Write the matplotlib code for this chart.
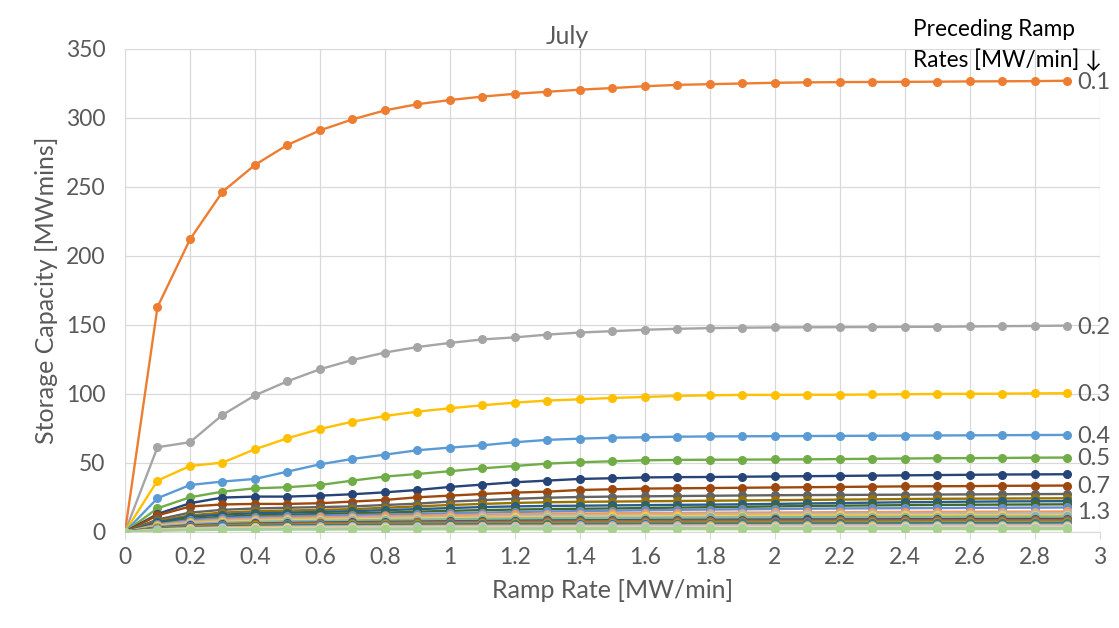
import matplotlib
matplotlib.use("Agg")
import matplotlib.pyplot as plt
from matplotlib.ticker import MultipleLocator, FormatStrFormatter

plt.rcParams['font.family'] = ['Lato', 'DejaVu Sans']

# ramp rate (x) and one curve per preceding ramp rate
ramp = [0.0, 0.1, 0.2, 0.3, 0.4, 0.5, 0.6, 0.7, 0.8, 0.9, 1.0, 1.1, 1.2, 1.3, 1.4,
        1.5, 1.6, 1.7, 1.8, 1.9, 2.0, 2.1, 2.2, 2.3, 2.4, 2.5, 2.6, 2.7, 2.8, 2.9]

p01 = [0, 163, 212, 246.5, 266, 280.5, 291, 299, 305.5, 310, 313, 315.5, 317.5, 319, 320.5,
       321.7, 323, 324, 324.5, 325, 325.5, 325.8, 326, 326.1, 326.2, 326.3, 326.5, 326.6, 326.7, 327]
p02 = [0, 61.4, 65, 84.8, 99, 109.2, 117.9, 124.6, 130, 134, 137, 139.5, 141, 143, 144.5,
       145.5, 146.5, 147.2, 147.7, 148, 148.2, 148.3, 148.4, 148.5, 148.6, 148.7, 148.9, 149.1, 149.3, 149.5]
p03 = [0, 37.2, 47.8, 50.2, 59.9, 67.9, 74.6, 79.9, 84, 87.2, 89.6, 91.8, 93.7, 95.2, 96.1,
       97.1, 97.8, 98.6, 99, 99.3, 99.3, 99.4, 99.4, 99.6, 99.8, 100, 100.1, 100.2, 100.4, 100.5]
p04 = [0, 24.4, 34, 36.5, 38.4, 43.7, 49, 52.9, 56, 59.2, 61.1, 62.8, 65, 66.7, 67.6,
       68.3, 68.6, 69, 69.2, 69.3, 69.4, 69.5, 69.6, 69.7, 69.8, 69.9, 70, 70.1, 70.2, 70.3]
p05 = [0, 17.1, 25.1, 29.2, 31.6, 32.4, 34, 37.2, 40.1, 42, 44, 46.1, 47.8, 49.5, 50.5,
       51.2, 51.9, 52.2, 52.3, 52.4, 52.5, 52.6, 52.8, 53, 53.2, 53.4, 53.5, 53.6, 53.8, 53.9]
p06 = [0, 13, 20.8, 24.9, 25.6, 25.6, 26.3, 27.3, 28.7, 30.4, 32.6, 34.3, 36, 37.2, 38.4,
       38.9, 39.5, 39.7, 39.8, 40, 40.2, 40.4, 40.6, 40.8, 41, 41.2, 41.4, 41.6, 41.7, 41.8]
p07 = [0, 12, 18.4, 19.9, 20.3, 20.3, 20.8, 22, 23.2, 25.1, 26.3, 27.5, 28.5, 29.2, 30.4,
       30.9, 31.4, 31.6, 31.8, 32, 32.2, 32.4, 32.6, 32.8, 33, 33.1, 33.2, 33.4, 33.5, 33.6]
p08 = [0, 9, 14, 16, 17, 17.5, 18, 18.5, 19.5, 20.5, 22, 23, 24, 24.8, 25.3,
       25.6, 25.8, 26, 26.2, 26.4, 26.6, 26.7, 26.8, 26.9, 27, 27.1, 27.2, 27.3, 27.4, 27.5]
p09 = [0, 8, 12, 14, 15, 15.5, 16, 16.5, 17.5, 18.5, 19.5, 20.3, 21, 21.5, 21.8,
       22, 22.2, 22.4, 22.6, 22.8, 23, 23.2, 23.4, 23.6, 23.8, 24, 24.1, 24.2, 24.3, 24.4]
p10 = [0, 7, 11, 12.5, 13.5, 14, 14.5, 15, 15.8, 16.5, 17.3, 18, 18.5, 18.8, 19,
       19.2, 19.4, 19.6, 19.8, 20, 20.3, 20.6, 20.9, 21.2, 21.5, 21.7, 21.9, 22.1, 22.2, 22.3]
p11 = [0, 6, 9.5, 11, 12, 12.5, 13, 13.5, 14, 14.7, 15.3, 15.8, 16.2, 16.5, 16.8,
       17, 17.3, 17.6, 17.9, 18.2, 18.5, 18.8, 19, 19.2, 19.4, 19.6, 19.7, 19.8, 19.9, 20]
p12 = [0, 5.5, 8.5, 10, 10.8, 11.3, 11.8, 12.2, 12.6, 13, 13.5, 14, 14.4, 14.8, 15.1,
       15.4, 15.7, 16, 16.2, 16.4, 16.6, 16.8, 17, 17.1, 17.2, 17.3, 17.4, 17.5, 17.6, 17.7]
p13 = [0, 5, 7.5, 8.8, 9.6, 10.1, 10.5, 10.9, 11.3, 11.7, 12.1, 12.5, 12.8, 13.1, 13.3,
       13.5, 13.7, 13.8, 13.9, 14, 14.1, 14.2, 14.3, 14.4, 14.5, 14.6, 14.6, 14.7, 14.7, 14.8]
p14 = [0, 4.5, 6.8, 8, 8.7, 9.2, 9.6, 10, 10.3, 10.6, 11, 11.3, 11.6, 11.9, 12.1,
       12.3, 12.5, 12.6, 12.7, 12.8, 12.9, 13, 13.1, 13.2, 13.2, 13.3, 13.3, 13.4, 13.4, 13.5]
p15 = [0, 4, 6.2, 7.3, 8, 8.4, 8.8, 9.1, 9.4, 9.7, 10, 10.3, 10.6, 10.8, 11,
       11.2, 11.3, 11.4, 11.5, 11.6, 11.7, 11.8, 11.9, 12, 12, 12.1, 12.1, 12.2, 12.2, 12.3]
p16 = [0, 3.8, 5.7, 6.7, 7.3, 7.7, 8, 8.3, 8.6, 8.9, 9.2, 9.5, 9.7, 9.9, 10.1,
       10.2, 10.3, 10.4, 10.5, 10.6, 10.7, 10.8, 10.9, 10.9, 11, 11, 11.1, 11.1, 11.2, 11.2]
p17 = [0, 3.5, 5.2, 6.1, 6.7, 7.1, 7.4, 7.7, 8, 8.2, 8.5, 8.7, 8.9, 9.1, 9.3,
       9.4, 9.5, 9.6, 9.7, 9.8, 9.9, 9.9, 10, 10, 10.1, 10.1, 10.2, 10.2, 10.3, 10.3]
p18 = [0, 3.2, 4.8, 5.6, 6.1, 6.5, 6.8, 7.1, 7.3, 7.5, 7.7, 7.9, 8.1, 8.3, 8.4,
       8.5, 8.6, 8.7, 8.8, 8.9, 9, 9, 9.1, 9.1, 9.2, 9.2, 9.3, 9.3, 9.4, 9.4]
p19 = [0, 3, 4.4, 5.2, 5.7, 6, 6.3, 6.5, 6.7, 6.9, 7.1, 7.3, 7.5, 7.6, 7.7,
       7.8, 7.9, 8, 8.1, 8.1, 8.2, 8.2, 8.3, 8.3, 8.4, 8.4, 8.5, 8.5, 8.5, 8.6]
p20 = [0, 2.7, 4, 4.7, 5.2, 5.5, 5.8, 6, 6.2, 6.4, 6.6, 6.8, 6.9, 7, 7.1,
       7.2, 7.3, 7.3, 7.4, 7.4, 7.5, 7.5, 7.6, 7.6, 7.7, 7.7, 7.7, 7.8, 7.8, 7.8]
p21 = [0, 2.5, 3.7, 4.4, 4.8, 5.1, 5.3, 5.5, 5.7, 5.9, 6, 6.1, 6.2, 6.3, 6.4,
       6.5, 6.6, 6.6, 6.7, 6.7, 6.8, 6.8, 6.9, 6.9, 7, 7, 7, 7.1, 7.1, 7.1]
p22 = [0, 2.3, 3.4, 4, 4.4, 4.7, 4.9, 5.1, 5.2, 5.3, 5.4, 5.5, 5.6, 5.7, 5.8,
       5.9, 5.9, 6, 6, 6.1, 6.1, 6.2, 6.2, 6.2, 6.3, 6.3, 6.3, 6.4, 6.4, 6.4]
p23 = [0, 2.1, 3.1, 3.7, 4, 4.3, 4.5, 4.6, 4.7, 4.8, 4.9, 5, 5.1, 5.2, 5.2,
       5.3, 5.3, 5.4, 5.4, 5.5, 5.5, 5.5, 5.6, 5.6, 5.6, 5.7, 5.7, 5.7, 5.8, 5.8]
p24 = [0, 1.9, 2.8, 3.3, 3.6, 3.9, 4, 4.1, 4.2, 4.3, 4.4, 4.5, 4.6, 4.6, 4.7,
       4.7, 4.8, 4.8, 4.9, 4.9, 4.9, 5, 5, 5, 5, 5.1, 5.1, 5.1, 5.1, 5.2]
p25 = [0, 1.7, 2.5, 3, 3.3, 3.5, 3.6, 3.7, 3.8, 3.9, 4, 4, 4.1, 4.1, 4.2,
       4.2, 4.3, 4.3, 4.3, 4.4, 4.4, 4.4, 4.5, 4.5, 4.5, 4.5, 4.6, 4.6, 4.6, 4.6]
p26 = [0, 1.5, 2.2, 2.6, 2.9, 3.1, 3.2, 3.3, 3.4, 3.4, 3.5, 3.5, 3.6, 3.6, 3.7,
       3.7, 3.7, 3.8, 3.8, 3.8, 3.9, 3.9, 3.9, 3.9, 4, 4, 4, 4, 4, 4]
p27 = [0, 1.3, 1.9, 2.3, 2.5, 2.7, 2.8, 2.9, 2.9, 3, 3, 3.1, 3.1, 3.1, 3.2,
       3.2, 3.2, 3.2, 3.3, 3.3, 3.3, 3.3, 3.3, 3.4, 3.4, 3.4, 3.4, 3.4, 3.4, 3.4]
p28 = [0, 1.1, 1.6, 1.9, 2.1, 2.2, 2.3, 2.4, 2.4, 2.5, 2.5, 2.5, 2.6, 2.6, 2.6,
       2.6, 2.7, 2.7, 2.7, 2.7, 2.7, 2.7, 2.8, 2.8, 2.8, 2.8, 2.8, 2.8, 2.8, 2.8]
p29 = [0, 0.9, 1.3, 1.5, 1.6, 1.7, 1.7, 1.8, 1.8, 1.8, 1.9, 1.9, 1.9, 1.9, 2,
       2, 2, 2, 2, 2, 2, 2, 2, 2, 2, 2, 2, 2, 2, 2]

series = [p01, p02, p03, p04, p05, p06, p07, p08, p09, p10, p11, p12, p13, p14, p15,
          p16, p17, p18, p19, p20, p21, p22, p23, p24, p25, p26, p27, p28, p29]
names = ['0.1', '0.2', '0.3', '0.4', '0.5', '0.6', '0.7', '0.8', '0.9', '1.0',
         '1.1', '1.2', '1.3', '1.4', '1.5', '1.6', '1.7', '1.8', '1.9', '2.0',
         '2.1', '2.2', '2.3', '2.4', '2.5', '2.6', '2.7', '2.8', '2.9']
labelled = ['0.1', '0.2', '0.3', '0.4', '0.5', '0.7', '1.3']

# excel default cycle, skipping the first (blue) one
colors = ['#ED7D31', '#A5A5A5', '#FFC000', '#5B9BD5', '#70AD47',
          '#264478', '#9E480E', '#636363', '#997300', '#255E91', '#43682B',
          '#698ED0', '#F1975A', '#B7B7B7', '#FFCD33', '#7CAFDD', '#8CC168',
          '#2F5597', '#C55A11', '#7B7B7B', '#BF9000', '#2E75B6', '#548235',
          '#8FAADC', '#F4B183', '#C9C9C9', '#FFD966', '#9DC3E6', '#A9D18E']

txt = '#595959'
fig = plt.figure(figsize=(11.19, 6.28), dpi=100)
ax = fig.add_axes([0.1117, 0.153, 0.8713, 0.769])

for vals, name, c in zip(series, names, colors):
    ax.plot(ramp, vals, color=c, lw=1.7, marker='o', ms=5.5, zorder=3)
    if name in labelled:
        ax.annotate(name, xy=(ramp[-1], vals[-1]), xytext=(7, -1), textcoords='offset points',
                    va='center', ha='left', fontsize=17, color=txt, annotation_clip=False)

ax.set_xlim(0, 3)
ax.set_ylim(0, 350)
ax.xaxis.set_major_locator(MultipleLocator(0.2))
ax.yaxis.set_major_locator(MultipleLocator(50))
ax.xaxis.set_major_formatter(FormatStrFormatter('%g'))
ax.grid(True, color='#D9D9D9', lw=0.9, zorder=0)
ax.set_axisbelow(True)
for s in ['top', 'right', 'left']:
    ax.spines[s].set_visible(False)
ax.spines['bottom'].set_color('#D9D9D9')
ax.tick_params(axis='x', colors='#D9D9D9', labelcolor=txt, labelsize=16.5, length=5, pad=6)
ax.tick_params(axis='y', length=0, labelcolor=txt, labelsize=16.5, pad=14)

ax.set_xlabel('Ramp Rate [MW/min]', fontsize=18, color=txt, labelpad=8)
ax.set_ylabel('Storage Capacity [MWmins]', fontsize=18, color=txt, labelpad=6)

fig.text(567 / 1119, 1 - 36 / 628, 'July', ha='center', va='center', fontsize=18, color=txt)
fig.text(913 / 1119, 1 - 30 / 628, 'Preceding Ramp', ha='left', va='center', fontsize=16.3, color='black')
fig.text(913 / 1119, 1 - 60 / 628, 'Rates [MW/min] \u2193', ha='left', va='center', fontsize=16.3, color='black')

fig.savefig('out.png', dpi=100, facecolor='white')
